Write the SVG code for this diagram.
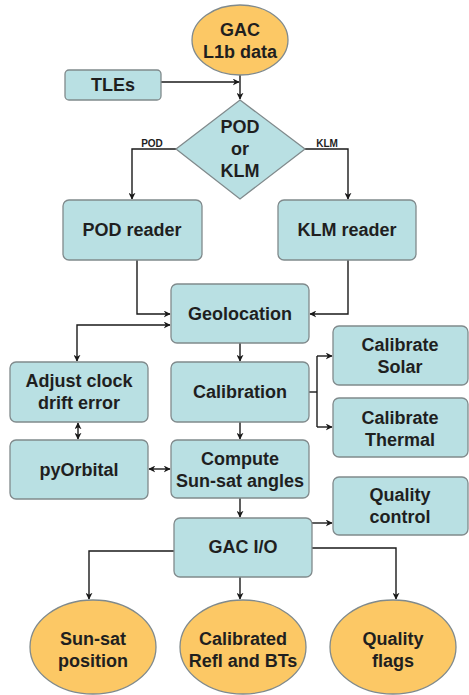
<svg xmlns="http://www.w3.org/2000/svg" width="469" height="695" viewBox="0 0 469 695">
<defs>
<style>
.box{fill:#b9e0e3;stroke:#808a8c;stroke-width:1.3}
.ell{fill:#fcc865;stroke:#808a8c;stroke-width:1.3}
.t{font-family:"Liberation Sans",Arial,sans-serif;font-weight:bold;font-size:18px;fill:#1f1f1f;text-anchor:middle}
.s{font-family:"Liberation Sans",Arial,sans-serif;font-weight:bold;font-size:10px;fill:#1f1f1f;text-anchor:middle}
.c{fill:none;stroke:#1a1a1a;stroke-width:1.4}
</style>
<marker id="ah" viewBox="0 0 10 10" refX="9" refY="5" markerWidth="7" markerHeight="7" orient="auto-start-reverse" markerUnits="userSpaceOnUse">
<path d="M0,0 L10,5 L0,10 L3,5 z" fill="#1a1a1a"/>
</marker>
</defs>
<rect width="469" height="695" fill="#ffffff"/>
<g id="connectors">
<path class="c" d="M161,82 H239" marker-end="url(#ah)"/>
<path class="c" d="M240,75 V99" marker-end="url(#ah)"/>
<path class="c" d="M176,149 H132 V199" marker-end="url(#ah)"/>
<path class="c" d="M305,149 H348 V199" marker-end="url(#ah)"/>
<path class="c" d="M137,260 V314 H170" marker-end="url(#ah)"/>
<path class="c" d="M348,260 V314 H310" marker-end="url(#ah)"/>
<path class="c" d="M170,325 H77 V361" marker-start="url(#ah)" marker-end="url(#ah)"/>
<path class="c" d="M240,343 V361" marker-end="url(#ah)"/>
<path class="c" d="M309,392 H317"/>
<path class="c" d="M317,356 V427"/>
<path class="c" d="M317,356 H332" marker-end="url(#ah)"/>
<path class="c" d="M317,427 H332" marker-end="url(#ah)"/>
<path class="c" d="M78,423 V439" marker-start="url(#ah)" marker-end="url(#ah)"/>
<path class="c" d="M240,422 V439" marker-end="url(#ah)"/>
<path class="c" d="M149,469 H170" marker-start="url(#ah)" marker-end="url(#ah)"/>
<path class="c" d="M240,498 V517" marker-end="url(#ah)"/>
<path class="c" d="M312,523 H332" marker-end="url(#ah)"/>
<path class="c" d="M174,551 H89 V599" marker-end="url(#ah)"/>
<path class="c" d="M312,548 H396 V599" marker-end="url(#ah)"/>
<path class="c" d="M240,577 V599" marker-end="url(#ah)"/>
<text class="s" x="152" y="147">POD</text>
<text class="s" x="327" y="147">KLM</text>
</g>
<g id="gac-l1b"><ellipse class="ell" cx="240" cy="40" rx="48" ry="35"/><text class="t" x="240" y="36">GAC</text><text class="t" x="240" y="58">L1b data</text></g>
<g id="tles"><rect class="box" x="65" y="70" width="96" height="30" rx="4"/><text class="t" x="113" y="91">TLEs</text></g>
<g id="pod-or-klm"><path class="box" d="M240,100 L305,149 L240,199 L176,149 Z"/><text class="t" x="240" y="133">POD</text><text class="t" x="240" y="155">or</text><text class="t" x="240" y="177">KLM</text></g>
<g id="pod-reader"><rect class="box" x="63" y="200" width="139" height="60" rx="6"/><text class="t" x="132" y="236">POD reader</text></g>
<g id="klm-reader"><rect class="box" x="278" y="200" width="138" height="60" rx="6"/><text class="t" x="347" y="236">KLM reader</text></g>
<g id="geolocation"><rect class="box" x="171" y="284" width="138" height="59" rx="6"/><text class="t" x="240" y="320">Geolocation</text></g>
<g id="adjust-clock"><rect class="box" x="10" y="362" width="138" height="60" rx="6"/><text class="t" x="79" y="387">Adjust clock</text><text class="t" x="79" y="409">drift error</text></g>
<g id="calibration"><rect class="box" x="171" y="362" width="138" height="60" rx="6"/><text class="t" x="240" y="398">Calibration</text></g>
<g id="calibrate-solar"><rect class="box" x="333" y="326" width="135" height="59" rx="6"/><text class="t" x="400" y="351">Calibrate</text><text class="t" x="400" y="373">Solar</text></g>
<g id="calibrate-thermal"><rect class="box" x="333" y="398" width="135" height="59" rx="6"/><text class="t" x="400" y="424">Calibrate</text><text class="t" x="400" y="446">Thermal</text></g>
<g id="pyorbital"><rect class="box" x="10" y="440" width="138" height="59" rx="6"/><text class="t" x="79" y="476">pyOrbital</text></g>
<g id="compute"><rect class="box" x="171" y="440" width="138" height="58" rx="6"/><text class="t" x="240" y="465">Compute</text><text class="t" x="240" y="487">Sun-sat angles</text></g>
<g id="quality-control"><rect class="box" x="333" y="477" width="135" height="58" rx="6"/><text class="t" x="400" y="501">Quality</text><text class="t" x="400" y="523">control</text></g>
<g id="gac-io"><rect class="box" x="174" y="518" width="138" height="59" rx="6"/><text class="t" x="243" y="553">GAC I/O</text></g>
<g id="sun-sat-position"><ellipse class="ell" cx="93" cy="647" rx="63" ry="47"/><text class="t" x="93" y="645">Sun-sat</text><text class="t" x="93" y="667">position</text></g>
<g id="calibrated-refl"><ellipse class="ell" cx="243" cy="647" rx="63" ry="47"/><text class="t" x="243" y="645">Calibrated</text><text class="t" x="243" y="667">Refl and BTs</text></g>
<g id="quality-flags"><ellipse class="ell" cx="393" cy="647" rx="63" ry="47"/><text class="t" x="393" y="645">Quality</text><text class="t" x="393" y="667">flags</text></g>
</svg>
